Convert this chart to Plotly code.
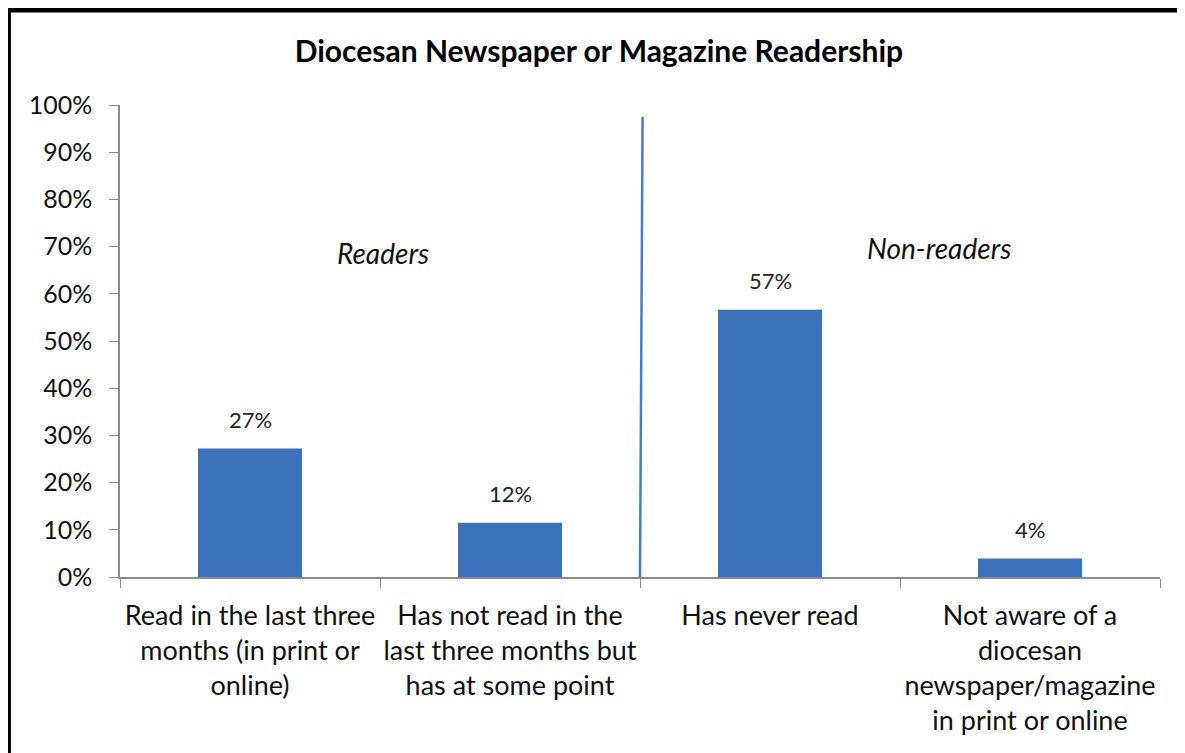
import plotly.graph_objects as go

categories = [
    "Read in the last three<br>months (in print or<br>online)",
    "Has not read in the<br>last three months but<br>has at some point",
    "Has never read",
    "Not aware of a<br>diocesan<br>newspaper/magazine<br>in print or online",
]
values = [27.2, 11.5, 56.6, 3.9]
labels = ["27%", "12%", "57%", "4%"]
group_labels = ["Readers", "Non-readers"]
group_x = [0.51, 2.65]
group_y = [68.6, 69.7]
divider_x = [1.5, 1.51]
divider_y = [0, 97.5]

FONT = "Lato"
bar_color = "#3A71BA"

fig = go.Figure()
fig.add_trace(go.Bar(
    x=categories, y=values,
    marker=dict(color=bar_color, line=dict(width=0)),
    width=0.4,
    hoverinfo="skip",
))

for c, v, t in zip(categories, values, labels):
    fig.add_annotation(x=c, y=v, text=t, showarrow=False, yanchor="bottom",
                       yshift=14, font=dict(family=FONT, size=22, color="#222"))

for x, y, t in zip(group_x, group_y, group_labels):
    fig.add_annotation(x=x, y=y, text="<i>" + t + "</i>", showarrow=False,
                       font=dict(family=FONT, size=28, color="#111"))

fig.add_trace(go.Scatter(x=divider_x, y=divider_y, mode="lines",
                         line=dict(color="#4A7CC4", width=2.5),
                         xaxis="x2", hoverinfo="skip"))

# frame (left and top)
fig.add_shape(type="line", xref="paper", yref="paper", x0=-0.1073, x1=-0.1073,
              y0=-0.5, y1=1.205, line=dict(color="black", width=5))
fig.add_shape(type="line", xref="paper", yref="paper", x0=-0.11, x1=1.05,
              y0=1.2013, y1=1.2013, line=dict(color="black", width=5))

fig.update_layout(
    width=1177, height=745,
    margin=dict(l=112, r=25, t=97, b=176, autoexpand=False),
    paper_bgcolor="white", plot_bgcolor="white",
    showlegend=False,
    title=dict(text="<b>Diocesan Newspaper or Magazine Readership</b>",
               x=0.502, xanchor="center", y=0.941, yanchor="middle",
               font=dict(family=FONT, size=30, color="black")),
    font=dict(family=FONT, color="#111"),
    xaxis=dict(type="category", showline=True, linecolor="#8c8c8c", linewidth=1.5,
               ticks="outside", tickson="boundaries", ticklen=9, tickcolor="#8c8c8c",
               tickfont=dict(family=FONT, size=27, color="#111"), tickangle=0,
               ticklabelstandoff=14,
               automargin=False, showgrid=False, range=[-0.5, 3.5]),
    xaxis2=dict(overlaying="x", range=[-0.5, 3.5], visible=False),
    yaxis=dict(range=[0, 100], dtick=10, ticksuffix="%", showline=True,
               linecolor="#8c8c8c", linewidth=1.5, ticks="outside", ticklen=9,
               tickcolor="#8c8c8c", showgrid=False, zeroline=False, automargin=False,
               ticklabelstandoff=12,
               tickfont=dict(family=FONT, size=25, color="#111")),
)

fig.write_html("out.html")
